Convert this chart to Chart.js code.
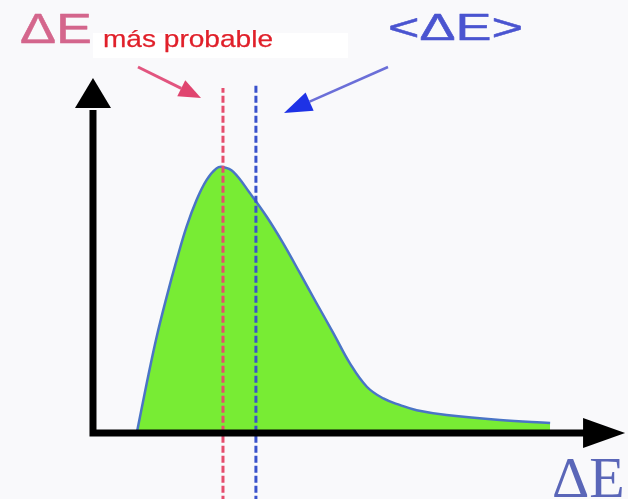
<!DOCTYPE html>
<html>
<head>
<meta charset="utf-8">
<script src="https://cdn.jsdelivr.net/npm/chart.js@4.4.0/dist/chart.umd.min.js"></script>
<style>
html,body{margin:0;padding:0;background:#f9f9fb;overflow:hidden}
canvas{display:block}
</style>
</head>
<body>
<canvas id="c" width="628" height="499"></canvas>
<script>
// Energy values (arbitrary units) along the curve
const energy = [1.01,1.24,1.47,1.70,1.93,2.16,2.39,2.62,2.85,3.00,3.24,3.62,4.01,4.39,4.78,5.16,5.55,5.93,6.32,6.70,7.09,7.47,8.16,9.39,10.55];
// Relative probability density at each energy
const density = [0,0.187,0.362,0.512,0.650,0.776,0.876,0.951,0.995,1.000,0.982,0.902,0.813,0.713,0.600,0.488,0.375,0.262,0.174,0.130,0.105,0.086,0.068,0.049,0.038];
// Marked energies
const mostProbable = 3.00;
const meanEnergy = 3.76;
// Labels
const labelTopLeft = "ΔE";
const labelMostProbable = "más probable";
const labelMean = "<ΔE>";
const labelAxis = "ΔE";

const curve = energy.map((e, i) => ({x: e, y: density[i]}));

function stretchedText(ctx, str, x, y, font, color, width, strokeW) {
  ctx.save();
  ctx.font = font;
  ctx.fillStyle = color;
  ctx.strokeStyle = color;
  ctx.textBaseline = 'alphabetic';
  ctx.textAlign = 'left';
  const w = ctx.measureText(str).width;
  ctx.translate(x, y);
  ctx.scale(width ? width / w : 1, 1);
  ctx.fillText(str, 0, 0);
  if (strokeW) { ctx.lineWidth = strokeW; ctx.lineJoin = 'round'; ctx.strokeText(str, 0, 0); }
  ctx.restore();
}

function arrow(ctx, x1, y1, x2, y2, lineColor, headColor, lw, headLen, headHalf) {
  const ang = Math.atan2(y2 - y1, x2 - x1);
  const bx = x2 - headLen * Math.cos(ang), by = y2 - headLen * Math.sin(ang);
  ctx.save();
  ctx.strokeStyle = lineColor;
  ctx.lineWidth = lw;
  ctx.beginPath();
  ctx.moveTo(x1, y1);
  ctx.lineTo(bx, by);
  ctx.stroke();
  ctx.fillStyle = headColor;
  ctx.beginPath();
  ctx.moveTo(x2, y2);
  ctx.lineTo(bx + headHalf * Math.sin(ang), by - headHalf * Math.cos(ang));
  ctx.lineTo(bx - headHalf * Math.sin(ang), by + headHalf * Math.cos(ang));
  ctx.closePath();
  ctx.fill();
  ctx.restore();
}

const decor = {
  id: 'decor',
  beforeDraw(chart) {
    const ctx = chart.ctx;
    ctx.save();
    ctx.fillStyle = '#f9f9fb';
    ctx.fillRect(0, 0, chart.width, chart.height);
    ctx.fillStyle = '#ffffff';
    ctx.fillRect(93, 33, 255, 25);
    ctx.restore();
  },
  afterDatasetsDraw(chart) {
    const ctx = chart.ctx;
    const xs = chart.scales.x, ys = chart.scales.y;
    const x0 = xs.getPixelForValue(0), y0 = ys.getPixelForValue(0);
    const yBase = ys.getPixelForValue(1.222), yTip = ys.getPixelForValue(1.335);
    const xBase = xs.getPixelForValue(11.31), xTip = xs.getPixelForValue(12.28);
    ctx.save();
    ctx.strokeStyle = '#000';
    ctx.fillStyle = '#000';
    ctx.lineWidth = 7;
    ctx.lineCap = 'butt';
    ctx.beginPath();
    ctx.moveTo(x0, y0 + 3.5);
    ctx.lineTo(x0, yBase + 2);
    ctx.moveTo(x0 - 3.5, y0);
    ctx.lineTo(xBase + 2, y0);
    ctx.stroke();
    ctx.beginPath();
    ctx.moveTo(x0, yTip);
    ctx.lineTo(x0 - 18, yBase);
    ctx.lineTo(x0 + 18, yBase);
    ctx.closePath();
    ctx.fill();
    ctx.beginPath();
    ctx.moveTo(xTip, y0);
    ctx.lineTo(xBase, y0 - 15);
    ctx.lineTo(xBase, y0 + 15);
    ctx.closePath();
    ctx.fill();
    ctx.restore();

    stretchedText(ctx, labelTopLeft, 20, 43, '43px "Liberation Sans", Arial, sans-serif', '#d4668c', 72, 0.5);
    stretchedText(ctx, labelMostProbable, 103, 47, '24px "Liberation Sans", Arial, sans-serif', '#e0202a', 170, 0.25);
    stretchedText(ctx, labelMean, 388, 40, '36px "Liberation Sans", Arial, sans-serif', '#4a54d0', 135, 0.5);
    stretchedText(ctx, labelAxis, 552, 497, '58px "Liberation Serif", "Times New Roman", serif', '#5a66b8', null, 0);

    arrow(ctx, 138, 67, 201, 98, '#e2557f', '#e0456f', 3, 22, 9);
    arrow(ctx, 388, 67, 284, 113, '#6b6fd8', '#1e32e6', 2.5, 28, 10);
  }
};

new Chart(document.getElementById('c'), {
  type: 'line',
  data: {
    datasets: [
      {
        data: [{x: mostProbable, y: -0.3}, {x: mostProbable, y: 1.297}],
        borderColor: '#e64d6e',
        borderWidth: 3,
        borderDash: [7, 3],
        pointRadius: 0,
        fill: false,
        order: 1
      },
      {
        data: [{x: meanEnergy, y: -0.3}, {x: meanEnergy, y: 1.308}],
        borderColor: '#3a52cc',
        borderWidth: 3,
        borderDash: [7, 3],
        pointRadius: 0,
        fill: false,
        order: 1
      },
      {
        data: curve,
        borderColor: '#4a74c6',
        borderWidth: 2.5,
        backgroundColor: '#78ec34',
        fill: 'origin',
        pointRadius: 0,
        tension: 0.4,
        order: 2
      }
    ]
  },
  options: {
    responsive: false,
    animation: false,
    devicePixelRatio: 1,
    layout: {padding: 0},
    plugins: {legend: {display: false}, tooltip: {enabled: false}},
    events: [],
    scales: {
      x: {type: 'linear', min: -2.146, max: 12.347, display: false},
      y: {type: 'linear', min: -0.248, max: 1.628, display: false}
    }
  },
  plugins: [decor]
});
</script>
</body>
</html>
